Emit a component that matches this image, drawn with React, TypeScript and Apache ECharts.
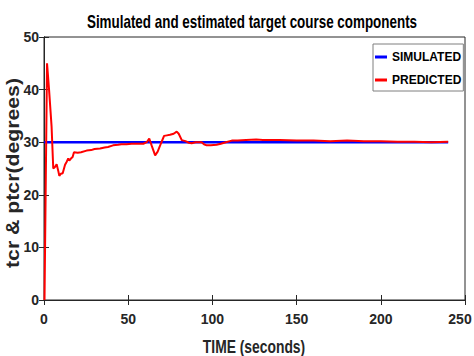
import React, { useEffect, useRef } from "react";
import * as echarts from "echarts";

const FONT = "'Liberation Sans', Arial, sans-serif";

const titleText = "Simulated and estimated target course components";
const xName = "TIME (seconds)";
const yName = "tcr & ptcr(degrees)";
const seriesNames = ["SIMULATED", "PREDICTED"];

const xTicks = [0, 50, 100, 150, 200, 250];
const yTicks = [0, 10, 20, 30, 40, 50];

const simTime = [0, 240];
const simValue = [30, 30];

const predTime = [
  0.3, 1.8, 3, 4.5, 5.5, 6.5, 7.5, 8.5, 9.1, 10, 11.1, 12.5, 13.5, 14.4, 15, 16, 17, 17.8,
  20, 22, 25.3, 28, 30, 33.3, 36, 38, 41, 44, 46, 49, 52, 55, 59, 61, 62.5, 64, 66, 67.5,
  68.5, 69.5, 71.3, 73, 74.8, 77, 78.8, 80, 81.8, 84, 86, 87.7, 90, 92, 93.6, 95, 96.6, 99,
  102.5, 105, 108, 111.5, 115, 120, 126, 130, 140, 150, 160, 170, 180, 190, 200, 210, 220,
  230, 240,
];
const predValue = [
  0, 45, 40, 33, 25, 25.3, 25.8, 24.5, 23.6, 24, 24.1, 25.7, 26.3, 26.9, 26.5, 26.9, 27.2, 28.1,
  28, 28.1, 28.4, 28.5, 28.7, 28.8, 29.0, 29.1, 29.4, 29.5, 29.6, 29.6, 29.7, 29.7, 29.7, 30.0,
  30.7, 29.3, 27.5, 28.2, 29.0, 29.8, 31.2, 31.3, 31.4, 31.6, 32.0, 31.6, 30.4, 30.2, 29.9, 29.8,
  30.0, 30.0, 30.0, 29.6, 29.4, 29.4, 29.5, 29.7, 30.0, 30.3, 30.3, 30.4, 30.5, 30.4, 30.4, 30.3,
  30.3, 30.2, 30.3, 30.2, 30.2, 30.1, 30.1, 30.0, 30.1,
];

export default function App() {
  const ref = useRef<HTMLDivElement>(null);
  useEffect(() => {
    document.body.style.margin = "0";
    if (!ref.current) return;
    const chart = echarts.init(ref.current, undefined, { renderer: "svg" });
    const axisColor = "#262626";
    const label = { fontFamily: FONT, fontWeight: "bold" as const, fontSize: 14, color: "#262626" };
    const nameStyle = { fontFamily: FONT, fontWeight: "bold", fontSize: 18, fill: "#000" };
    const xMax = xTicks[xTicks.length - 1];
    chart.setOption({
      animation: false,
      backgroundColor: "#fff",
      graphic: [
        {
          type: "text",
          x: 252,
          y: 21.5,
          scaleX: 0.746,
          style: { ...nameStyle, text: titleText, align: "center", verticalAlign: "middle" },
        },
        {
          type: "text",
          x: 254,
          y: 346,
          scaleX: 0.77,
          style: { ...nameStyle, fill: "#262626", text: xName, align: "center", verticalAlign: "middle" },
        },
        {
          type: "text",
          x: 12.5,
          y: 173,
          rotation: Math.PI / 2,
          scaleX: 1.18,
          style: { ...nameStyle, fontSize: 18, fill: "#262626", text: yName, align: "center", verticalAlign: "middle" },
        },
      ],
      grid: {
        left: 44,
        right: 9,
        top: 37,
        bottom: 56,
        show: true,
        borderColor: axisColor,
        borderWidth: 1,
        containLabel: false,
        outerBoundsMode: "none",
      },
      legend: {
        orient: "vertical",
        left: 373,
        top: 44,
        icon: "rect",
        itemWidth: 12,
        itemHeight: 3,
        itemGap: 11,
        padding: [7, 2, 5, 2],
        borderColor: "#7f7f7f",
        borderWidth: 1,
        borderRadius: 0,
        backgroundColor: "#fff",
        textStyle: { fontFamily: FONT, fontWeight: "bold", fontSize: 12, color: "#000" },
        data: seriesNames,
      },
      xAxis: [
        {
          type: "value",
          min: xTicks[0],
          max: xMax,
          interval: 50,
          axisLine: { show: true, lineStyle: { color: axisColor } },
          axisTick: { show: true, inside: true, length: 5, lineStyle: { color: axisColor } },
          axisLabel: {
            ...label,
            margin: 12,
            formatter: (v: number) => (v === xMax ? `{last|${v}}` : String(v)),
            rich: { last: { ...label, padding: [0, 10, 0, 0] } },
          },
          splitLine: { show: false },
        },
        {
          type: "value",
          position: "top",
          min: xTicks[0],
          max: xMax,
          interval: 50,
          axisLine: { show: true, lineStyle: { color: axisColor } },
          axisTick: { show: true, inside: true, length: 5, lineStyle: { color: axisColor } },
          axisLabel: { show: false },
          splitLine: { show: false },
        },
      ],
      yAxis: [
        {
          type: "value",
          min: yTicks[0],
          max: yTicks[yTicks.length - 1],
          interval: 10,
          axisLine: { show: true, lineStyle: { color: axisColor } },
          axisTick: { show: true, inside: true, length: 5, lineStyle: { color: axisColor } },
          axisLabel: { ...label, margin: 5 },
          splitLine: { show: false },
        },
        {
          type: "value",
          position: "right",
          min: yTicks[0],
          max: yTicks[yTicks.length - 1],
          interval: 10,
          axisLine: { show: true, lineStyle: { color: axisColor } },
          axisTick: { show: true, inside: true, length: 5, lineStyle: { color: axisColor } },
          axisLabel: { show: false },
          splitLine: { show: false },
        },
      ],
      series: [
        {
          name: seriesNames[0],
          type: "line",
          symbol: "none",
          color: "#0000ff",
          lineStyle: { width: 2.5, color: "#0000ff" },
          data: simTime.map((t, i) => [t, simValue[i]]),
        },
        {
          name: seriesNames[1],
          type: "line",
          symbol: "none",
          color: "#ff0000",
          lineStyle: { width: 2, color: "#ff0000" },
          data: predTime.map((t, i) => [t, predValue[i]]),
        },
      ],
    });
    return () => chart.dispose();
  }, []);
  return <div ref={ref} style={{ width: 474, height: 356 }} />;
}
